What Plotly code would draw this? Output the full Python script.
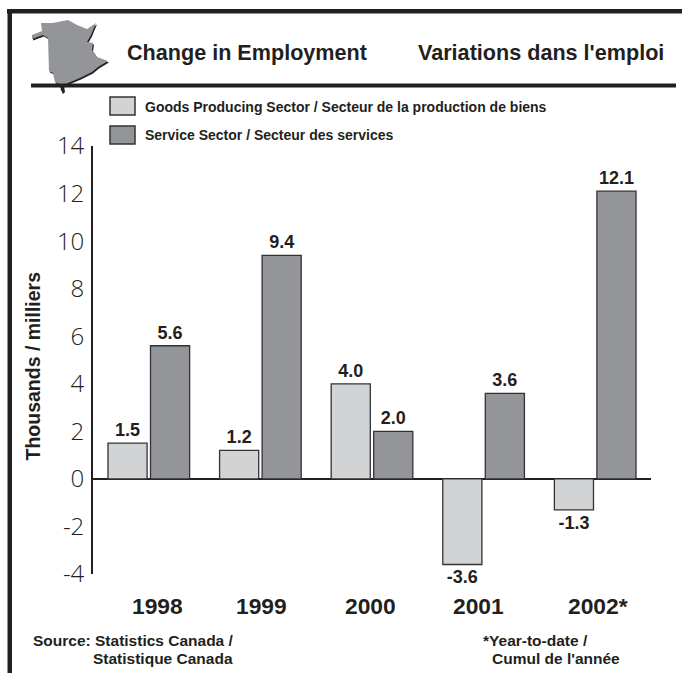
import plotly.graph_objects as go

W, H = 682, 673
years = ["1998", "1999", "2000", "2001", "2002*"]
goods = [1.5, 1.2, 4.0, -3.6, -1.3]
services = [5.6, 9.4, 2.0, 3.6, 12.1]
goods_name = "Goods Producing Sector / Secteur de la production de biens"
services_name = "Service Sector / Secteur des services"
y_ticks = [-4, -2, 0, 2, 4, 6, 8, 10, 12, 14]
y_tick_labels = ["-4", "-2", "0", "2", "4", "6", "8", "10", "12", "14"]
year_label_x = [157, 261.5, 370.5, 478, 597.5]

FONT = "Liberation Sans, Arial, sans-serif"
INK = "#231f20"
LIGHT = "#d1d3d4"
DARK = "#939598"

def X(p): return p / W
def Y(p): return 1 - p / H

def path(points):
    return "M" + " L".join(f"{X(a):.4f},{Y(b):.4f}" for a, b in points) + " Z"

def rect(x0, y0, x1, y1, fill, line=None, lw=0):
    return dict(type="rect", xref="paper", yref="paper", x0=X(x0), x1=X(x1), y0=Y(y0), y1=Y(y1),
                fillcolor=fill, line=dict(color=line or fill, width=lw), layer="above")

def text(s, x, y, size, anchor="left", bold=True, color=INK):
    return dict(text=f"<b>{s}</b>" if bold else s, x=X(x), y=Y(y), xref="paper", yref="paper",
                xanchor=anchor, yanchor="middle", showarrow=False,
                font=dict(family=FONT, size=size, color=color))

fig = go.Figure()
common = dict(x=years, texttemplate="<b>%{y:.1f}</b>", textposition="outside", cliponaxis=False,
              textfont=dict(family=FONT, size=18, color=INK), hoverinfo="x+y")
fig.add_bar(name=goods_name, y=goods, marker=dict(color=LIGHT, line=dict(color="#333333", width=1.3)), **common)
fig.add_bar(name=services_name, y=services, marker=dict(color=DARK, line=dict(color="#333333", width=1.3)), **common)

province = [(32, 35), (42, 31), (41, 23), (53, 23), (68, 20), (77, 25), (87, 29), (96, 23), (93, 30),
            (91, 35), (87, 42), (93, 43), (92, 50), (97, 57), (108, 61), (98, 67), (92, 72), (80, 78),
            (68, 83), (63, 86), (55, 82), (53, 73), (49, 71), (48, 38), (43, 35), (32, 39)]
shadow = [(a + 1, b + 1.5) for a, b in province]
island = [(60, 85), (64, 86), (65, 92), (63, 94), (61, 90)]

shapes = [
    rect(7, 9, 682, 13.5, INK),
    rect(7.5, 9, 12, 673, INK),
    dict(type="path", xref="paper", yref="paper", path=path(shadow), fillcolor=INK, line=dict(width=0)),
    dict(type="path", xref="paper", yref="paper", path=path(province), fillcolor="#939598", line=dict(width=0)),
    dict(type="path", xref="paper", yref="paper", path=path(island), fillcolor=INK, line=dict(width=0)),
    rect(31, 83.5, 676, 87.5, INK),
    rect(110, 97, 135, 115, LIGHT, "#333333", 1.5),
    rect(110, 126, 135, 144, DARK, "#333333", 1.5),
]

annotations = [
    text("Change in Employment", 125, 53, 21.6),
    text("Variations dans l'emploi", 416, 53, 21.6),
    text(goods_name, 143, 106.5, 14),
    text(services_name, 143, 135.5, 14),
    text("Source: Statistics Canada /", 31, 640, 15.5),
    text("Statistique Canada", 91, 658, 15.5),
    text("*Year-to-date /", 481, 640, 15.5),
    text("Cumul de l'année", 490, 658, 15.5),
    dict(text="<b>Thousands / milliers</b>", x=X(33), y=Y(366.5), xref="paper", yref="paper", textangle=-90,
         showarrow=False, xanchor="center", yanchor="middle", font=dict(family=FONT, size=19.5, color=INK)),
]
annotations += [text(y, x, 606, 22.8, "center") for y, x in zip(years, year_label_x)]

fig.update_layout(
    width=W, height=H, margin=dict(l=0, r=0, t=0, b=0, autoexpand=False), autosize=False,
    paper_bgcolor="white", plot_bgcolor="white", showlegend=False,
    barmode="group", bargap=0.238, bargroupgap=0.08,
    xaxis=dict(domain=[X(93), X(651)], showticklabels=False, ticks="", showgrid=False, zeroline=False,
               showline=False, range=[-0.5, 4.5], type="category", automargin=False),
    yaxis=dict(domain=[Y(574), Y(146)], range=[-4, 14], tickvals=y_ticks, ticktext=y_tick_labels,
               showgrid=False, automargin=False,
               zeroline=True, zerolinecolor=INK, zerolinewidth=1.5,
               showline=True, linecolor=INK, linewidth=1.8, ticks="", ticklabelstandoff=2,
               tickfont=dict(family="Open Sans, Liberation Sans, sans-serif", size=24, weight=300, color=INK)),
    shapes=shapes, annotations=annotations,
)
fig.write_html("out.html", config=dict(responsive=False, displayModeBar=False),
               post_script="document.body.style.margin='0';document.body.style.overflow='hidden';")
